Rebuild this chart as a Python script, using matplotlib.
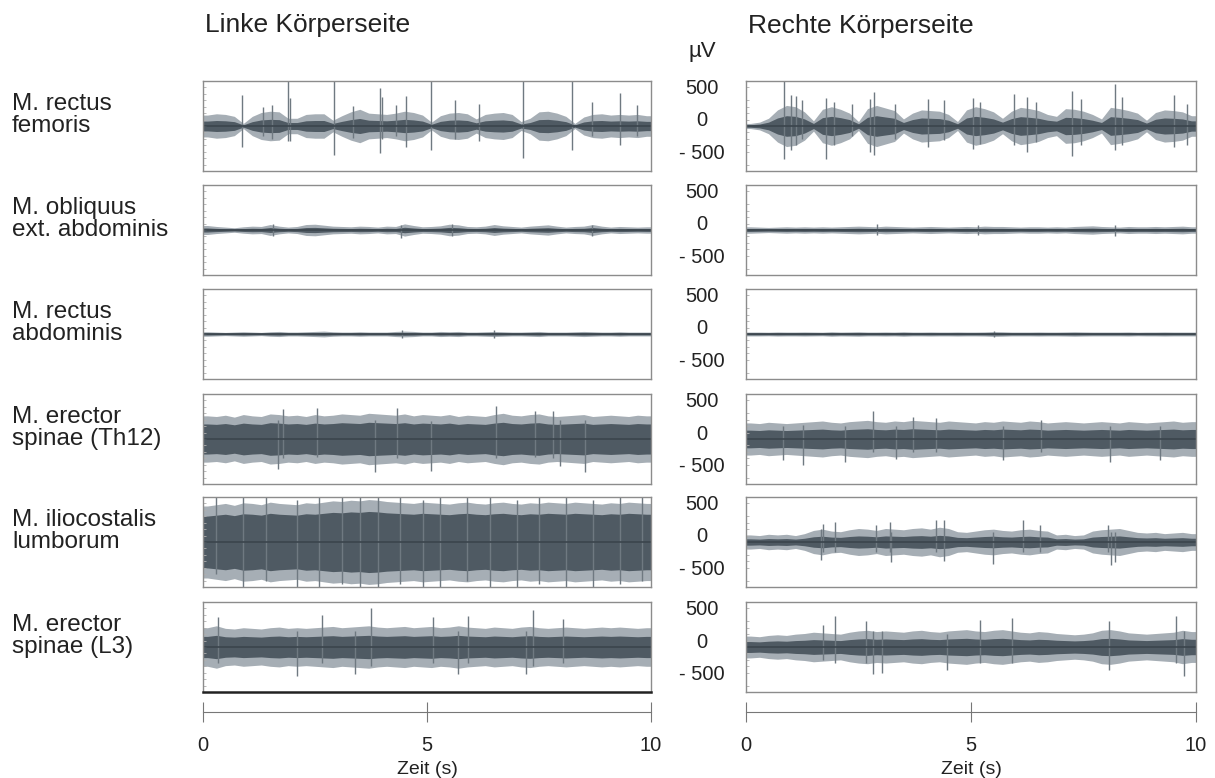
import numpy as np
import matplotlib
matplotlib.use("Agg")
import matplotlib.pyplot as plt
from matplotlib.transforms import ScaledTranslation

plt.rcParams['font.family'] = ['Liberation Sans', 'DejaVu Sans']

# muscle names (row labels)
muscles = ["M. rectus\nfemoris", "M. obliquus\next. abdominis", "M. rectus\nabdominis",
           "M. erector\nspinae (Th12)", "M. iliocostalis\nlumborum", "M. erector\nspinae (L3)"]

# peak amplitude (µV) of each trace, read per 0.2 s from 0 to 10 s
bin_s = 0.2
left_env = [
    [170, 190, 180, 150, 40, 150, 210, 230, 220, 120, 120, 180, 190, 190, 90, 160, 220, 260, 200, 190,
     180, 200, 230, 210, 170, 60, 160, 200, 210, 190, 110, 180, 200, 210, 180, 70, 120, 220, 230, 200,
     150, 40, 140, 180, 190, 170, 180, 170, 180, 160],
    [70, 55, 45, 35, 50, 60, 55, 85, 60, 45, 55, 85, 90, 75, 60, 55, 50, 60, 55, 45,
     60, 55, 95, 70, 50, 55, 65, 90, 80, 55, 50, 60, 85, 65, 55, 45, 60, 70, 80, 60,
     45, 55, 60, 85, 60, 45, 55, 50, 45, 50],
    [35, 30, 25, 30, 35, 30, 25, 35, 40, 30, 30, 35, 40, 45, 35, 30, 30, 35, 30, 30,
     30, 40, 45, 40, 30, 30, 40, 35, 40, 30, 30, 35, 40, 35, 30, 30, 35, 40, 30, 30,
     30, 35, 40, 35, 30, 30, 35, 30, 30, 30],
    [360, 350, 370, 340, 380, 360, 350, 390, 380, 360, 370, 350, 380, 360, 370, 390, 380, 370, 400, 390,
     380, 370, 390, 360, 380, 370, 360, 380, 350, 370, 360, 350, 380, 400, 370, 360, 380, 390, 360, 350,
     360, 370, 380, 350, 360, 370, 360, 350, 370, 360],
    [560, 580, 600, 570, 610, 600, 580, 620, 600, 590, 580, 610, 600, 620, 640, 630, 650, 640, 660, 650,
     630, 620, 610, 600, 620, 610, 600, 590, 610, 620, 600, 590, 610, 620, 600, 590, 610, 600, 620, 610,
     600, 620, 610, 600, 590, 610, 600, 620, 610, 600],
    [300, 330, 290, 280, 300, 290, 280, 300, 310, 290, 300, 290, 300, 310, 320, 300, 310, 320, 330, 310,
     300, 310, 320, 300, 310, 320, 300, 310, 330, 310, 300, 290, 310, 300, 290, 310, 320, 300, 290, 300,
     310, 300, 290, 300, 310, 300, 310, 300, 290, 300],
]
right_env = [
    [40, 60, 120, 250, 320, 300, 220, 80, 260, 300, 260, 200, 70, 270, 320, 280, 240, 110, 200, 250,
     240, 230, 180, 70, 250, 300, 270, 220, 120, 230, 290, 270, 240, 180, 150, 270, 260, 230, 180, 110,
     290, 270, 240, 200, 90, 210, 250, 240, 220, 160],
    [50, 45, 40, 45, 50, 45, 50, 45, 50, 45, 50, 55, 60, 55, 50, 60, 55, 50, 45, 50,
     55, 50, 45, 50, 55, 50, 60, 55, 55, 50, 45, 50, 50, 45, 50, 45, 55, 60, 65, 55,
     50, 45, 55, 50, 50, 55, 50, 55, 60, 50],
    [30, 30, 28, 32, 30, 30, 32, 30, 28, 35, 30, 32, 35, 30, 30, 32, 30, 35, 30, 30,
     32, 30, 30, 32, 30, 30, 32, 38, 35, 30, 30, 30, 32, 30, 30, 32, 35, 32, 30, 30,
     30, 30, 32, 28, 30, 30, 32, 30, 30, 30],
    [250, 240, 260, 250, 240, 250, 260, 270, 280, 260, 250, 270, 280, 290, 270, 260, 280, 270, 290, 280,
     270, 260, 280, 270, 260, 250, 270, 260, 280, 270, 260, 280, 270, 250, 260, 270, 260, 250, 260, 270,
     260, 250, 270, 260, 250, 260, 270, 280, 260, 270],
    [110, 100, 120, 110, 120, 100, 130, 180, 200, 170, 160, 190, 210, 200, 180, 210, 200, 190, 210, 220,
     200, 230, 210, 160, 150, 170, 190, 200, 180, 170, 190, 200, 180, 170, 110, 120, 100, 110, 170, 190,
     200, 210, 180, 150, 140, 150, 130, 140, 150, 130],
    [170, 160, 180, 190, 180, 200, 210, 230, 220, 210, 200, 230, 250, 260, 240, 250, 240, 230, 250, 260,
     240, 230, 250, 260, 270, 250, 240, 260, 270, 250, 230, 220, 240, 230, 210, 200, 190, 200, 220, 260,
     270, 250, 220, 210, 200, 210, 220, 230, 260, 240],
]
# share of the peak amplitude covered by the dense dark core
left_core = [0.45, 0.45, 0.45, 0.65, 0.72, 0.55]
right_core = [0.5, 0.45, 0.45, 0.55, 0.45, 0.5]

# single large spikes: (time s, top µV, bottom µV)
left_spikes = [
    [(0.86, 480, -320), (1.35, 300, -150), (1.55, 330, -200), (1.89, 700, -240), (1.95, 430, -230),
     (2.93, 700, -450), (3.35, 310, -180), (3.95, 590, -420), (4.0, 450, -200), (4.3, 320, -150),
     (4.54, 460, -320), (5.08, 700, -370), (5.63, 400, -200), (6.15, 350, -230), (7.15, 700, -500),
     (8.23, 700, -370), (8.68, 380, -150), (9.31, 520, -300), (9.68, 330, -150)],
    [(1.57, 90, -100), (4.43, 80, -130), (5.55, 90, -90), (8.68, 80, -100)],
    [(4.45, 60, -60), (6.5, 60, -60)],
    [(1.68, 300, -470), (1.79, 470, -300), (2.54, 490, -280), (3.84, 300, -520), (4.32, 490, -300),
     (5.1, 280, -490), (6.55, 520, -300), (7.41, 440, -280), (7.82, 440, -300), (7.97, 300, -415),
     (8.53, 300, -520)],
    [(0.3, 700, -500), (0.9, 700, -700), (1.4, 700, -600), (2.1, 650, -700), (2.6, 700, -700),
     (3.1, 700, -650), (3.5, 700, -700), (3.9, 700, -700), (4.4, 700, -650), (4.9, 650, -700),
     (5.3, 700, -700), (5.9, 700, -600), (6.4, 700, -700), (7.0, 650, -700), (7.5, 700, -650),
     (8.1, 700, -700), (8.7, 650, -700), (9.3, 700, -650), (9.8, 700, -600)],
    [(0.34, 465, -250), (2.09, 250, -450), (2.65, 500, -250), (3.39, 250, -415), (3.76, 600, -300),
     (5.14, 470, -250), (5.7, 250, -415), (5.92, 490, -250), (7.22, 250, -425), (7.37, 570, -300),
     (8.04, 440, -250)],
]
right_spikes = [
    [(0.85, 700, -510), (1.0, 480, -380), (1.1, 460, -300), (1.25, 400, -200), (1.78, 430, -510),
     (1.95, 380, -300), (2.35, 350, -150), (2.75, 420, -400), (2.85, 530, -450), (3.3, 350, -200),
     (4.05, 420, -320), (4.4, 400, -220), (5.05, 430, -350), (5.2, 380, -280), (5.95, 500, -300),
     (6.25, 450, -400), (6.45, 380, -250), (7.25, 550, -460), (7.45, 420, -300), (8.2, 660, -380),
     (8.35, 450, -300), (9.5, 480, -320), (9.8, 350, -300)],
    [(2.9, 90, -70), (5.15, 80, -80), (8.2, 80, -100)],
    [(5.5, 50, -45)],
    [(0.82, 200, -330), (1.26, 220, -400), (2.19, 200, -350), (2.82, 430, -200), (3.34, 200, -310),
     (3.71, 350, -200), (4.23, 330, -200), (5.71, 200, -330), (6.56, 300, -200), (8.09, 200, -350),
     (9.2, 200, -330)],
    [(1.67, 200, -285), (1.71, 285, -150), (1.97, 310, -150), (2.89, 260, -150), (3.19, 310, -150),
     (3.23, 150, -310), (4.23, 350, -150), (4.41, 340, -300), (5.49, 150, -340), (6.16, 340, -150),
     (6.53, 270, -150), (8.05, 260, -150), (8.12, 150, -350), (8.2, 150, -310)],
    [(1.7, 350, -200), (1.97, 480, -250), (2.67, 400, -250), (2.83, 250, -420), (3.02, 250, -405),
     (4.47, 200, -350), (5.21, 425, -250), (5.91, 450, -250), (8.06, 400, -350), (9.55, 490, -250),
     (9.74, 250, -455)],
]

time_ticks = [0, 5, 10]
amp_ticks = [-500, 0, 500]
amp_labels = ["- 500", "0", "500"]

W, H = 1215, 778
fig = plt.figure(figsize=(W / 100, H / 100), dpi=100)


def px_axes(x0, top, w, h):
    return fig.add_axes([x0 / W, 1 - (top + h) / H, w / W, h / H])


outer_c = "#a6aeb5"
core_c = "#4f5a63"
spike_c = "#6f7981"
frame_c = "#8c8c8c"

tops = [81, 185, 289, 394, 497, 602]
panel_h = 90
cols = [(203, 448, left_env, left_core, left_spikes), (746, 450, right_env, right_core, right_spikes)]

for side, (x0, w, envs, cores, spikes) in enumerate(cols):
    for i, top in enumerate(tops):
        ax = px_axes(x0, top, w, panel_h)
        env = np.array(envs[i], dtype=float)
        t = np.arange(len(env)) * bin_s + bin_s / 2
        t = np.concatenate([[0], t, [10]])
        env = np.concatenate([[env[0]], env, [env[-1]]])
        ax.fill_between(t, -env, env, color=outer_c, lw=0)
        core = env * cores[i]
        ax.fill_between(t, -core, core, color=core_c, lw=0)
        sp = np.array(spikes[i], dtype=float)
        ax.vlines(sp[:, 0], sp[:, 2], sp[:, 1], color=spike_c, lw=1.0)
        ax.axhline(0, color="#3b454d", lw=1.2)
        ax.set_xlim(0, 10)
        ax.set_ylim(-700, 700)
        ax.set_xticks([])
        for s in ax.spines.values():
            s.set_color(frame_c)
            s.set_linewidth(1.0)
        ax.set_yticks(np.arange(-600, 601, 100), minor=True)
        ax.tick_params(axis='y', which='minor', direction='in', length=2.5, color='#b0b0b0', width=0.6)
        if side == 1:
            ax.set_yticks(amp_ticks)
            ax.set_yticklabels(amp_labels, fontsize=14.5, color="#222222", ha='center')
            ax.tick_params(axis='y', which='major', length=0, pad=32)
            for lab in ax.get_yticklabels():
                lab.set_transform(lab.get_transform() + ScaledTranslation(0, 0.07, fig.dpi_scale_trans))
        else:
            ax.set_yticks([])
            if i == len(tops) - 1:
                ax.spines['bottom'].set_color("#222222")
                ax.spines['bottom'].set_linewidth(1.8)
            fig.text(12 / W, 1 - (top + panel_h / 2 - 11) / H, muscles[i], fontsize=17.5,
                     va='center', ha='left', linespacing=0.95, color="#222222")

    # time axis below each column
    tax = px_axes(x0, 711, w, 1)
    tax.set_xlim(0, 10)
    tax.set_xticks(time_ticks)
    tax.set_xticklabels([str(v) for v in time_ticks], fontsize=14.5, color="#222222")
    tax.set_yticks([])
    for name in ['top', 'left', 'right']:
        tax.spines[name].set_visible(False)
    tax.spines['bottom'].set_color("#777777")
    tax.tick_params(axis='x', direction='inout', length=15, color="#777777", pad=10)
    tax.set_xlabel("Zeit (s)", fontsize=14, color="#222222", labelpad=4)
    tax.patch.set_visible(False)

fig.text(205 / W, 1 - 32 / H, "Linke Körperseite", fontsize=19, color="#222222", va='baseline')
fig.text(748 / W, 1 - 33 / H, "Rechte Körperseite", fontsize=19, color="#222222", va='baseline')
fig.text(688 / W, 1 - 57 / H, "µV", fontsize=16, color="#222222", va='baseline')

fig.savefig("out.png", dpi=100, facecolor="white")
